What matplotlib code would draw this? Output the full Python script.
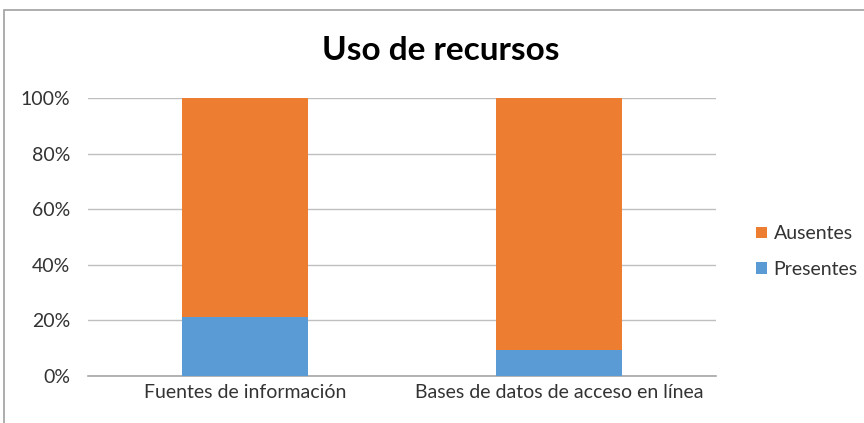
import matplotlib.pyplot as plt
from matplotlib.patches import Rectangle
from matplotlib.ticker import PercentFormatter

categories = ["Fuentes de información", "Bases de datos de acceso en línea"]
presentes = [21.2, 9.4]
ausentes = [78.8, 90.6]
yticks = [0, 20, 40, 60, 80, 100]

plt.rcParams['font.family'] = ['Lato', 'DejaVu Sans']

fig = plt.figure(figsize=(8.64, 4.23), dpi=100)
ax = fig.add_axes([0.102, 0.111, 0.727, 0.657])

x = range(len(categories))
ax.bar(x, presentes, width=0.4, color='#5B9BD5', label='Presentes', zorder=3)
ax.bar(x, ausentes, width=0.4, bottom=presentes, color='#ED7D31', label='Ausentes', zorder=3)

ax.set_xlim(-0.5, 1.5)
ax.set_ylim(0, 100)
ax.set_yticks(yticks)
ax.yaxis.set_major_formatter(PercentFormatter(decimals=0))
ax.set_xticks(list(x))
ax.set_xticklabels(categories)
ax.tick_params(axis='both', length=0, labelsize=14, colors='#333333')
ax.tick_params(axis='y', pad=13)
ax.tick_params(axis='x', pad=6)
ax.grid(axis='y', color='#BFBFBF', linewidth=1, zorder=0)
for s in ['top', 'right', 'left']:
    ax.spines[s].set_visible(False)
ax.spines['bottom'].set_color('#A6A6A6')
ax.spines['bottom'].set_linewidth(1.2)

fig.text(0.51, 0.88, "Uso de recursos", ha='center', va='center',
         fontsize=24, fontweight='bold', color='black')

h, l = ax.get_legend_handles_labels()
fig.legend(h[::-1], l[::-1], loc='center left', bbox_to_anchor=(0.855, 0.405),
           frameon=False, fontsize=14, handlelength=0.55, handleheight=0.55,
           handletextpad=0.35, labelspacing=0.95, labelcolor='#333333')

fig.add_artist(Rectangle((4 / 864, -0.01), 1.0, 1 - 10 / 423 + 0.01,
                         transform=fig.transFigure, fill=False,
                         edgecolor='#A0A0A0', linewidth=1.2))

fig.savefig('out.png', dpi=100)
